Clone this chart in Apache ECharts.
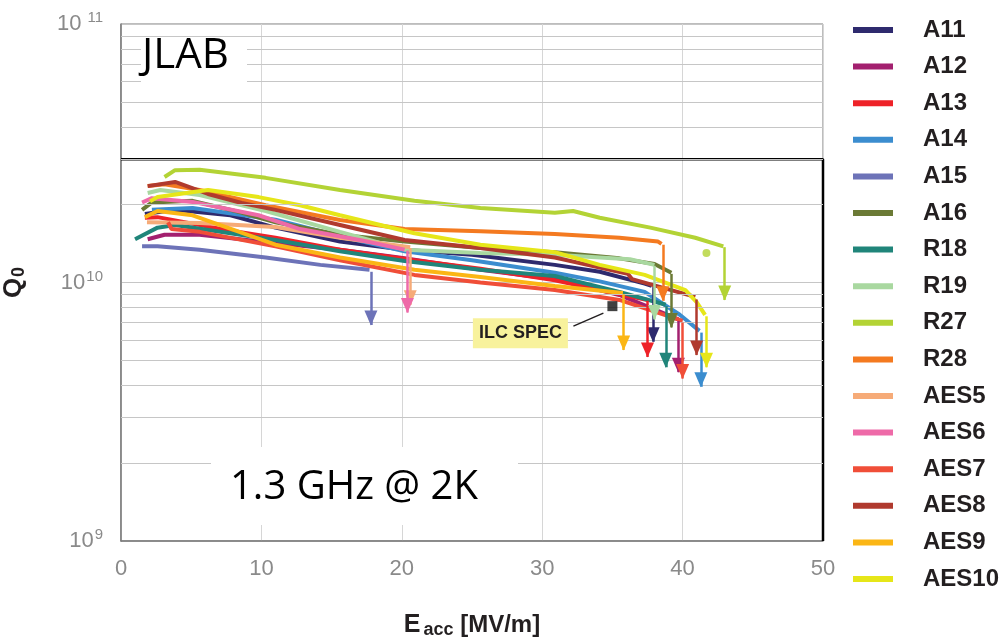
<!DOCTYPE html>
<html>
<head>
<meta charset="utf-8">
<script src="https://cdn.jsdelivr.net/npm/echarts@6/dist/echarts.min.js"></script>
<style>
html, body { margin: 0; padding: 0; background: #fff; }
#main { width: 1004px; height: 643px; }
</style>
</head>
<body>
<div id="main"></div>
<script>
// Q0 vs Eacc [MV/m], one list of [Eacc, Q0] per cavity
var A11 = [[1.7,1.84e10],[3.85,1.91e10],[7.8,1.82e10],[11.0,1.63e10],[15.6,1.44e10],[20.2,1.34e10],[25.0,1.28e10],[30.9,1.17e10],[34.1,1.10e10],[37.3,0.99e10],[37.8,0.97e10]];
var A12 = [[1.9,1.47e10],[3.1,1.53e10],[5.6,1.53e10],[11.0,1.42e10],[15.6,1.34e10],[20.2,1.24e10],[25.6,1.12e10],[30.9,1.03e10],[35.5,0.895e10],[39.7,0.72e10]];
var A13 = [[1.7,1.78e10],[2.6,1.79e10],[7.4,1.60e10],[11.0,1.49e10],[15.6,1.34e10],[20.9,1.22e10],[25.6,1.13e10],[30.9,1.02e10],[34.1,0.935e10],[37.5,0.856e10]];
var A14 = [[2.2,1.91e10],[5.1,1.94e10],[11.0,1.75e10],[15.6,1.51e10],[20.2,1.32e10],[25.0,1.22e10],[30.9,1.09e10],[34.1,1.01e10],[37.3,0.92e10],[39.8,0.75e10],[41.2,0.65e10]];
var A15 = [[1.5,1.38e10],[2.6,1.38e10],[5.6,1.34e10],[10.3,1.25e10],[14.2,1.17e10],[17.7,1.12e10]];
var A16 = [[1.5,1.91e10],[2.2,2.04e10],[5.1,2.07e10],[8.5,1.87e10],[11.0,1.71e10],[15.6,1.53e10],[20.2,1.44e10],[25.6,1.36e10],[30.9,1.31e10],[35.5,1.24e10],[38.0,1.18e10],[39.2,1.09e10]];
var R18 = [[1.0,1.47e10],[2.6,1.63e10],[3.85,1.67e10],[11.0,1.46e10],[15.6,1.32e10],[20.2,1.21e10],[25.6,1.12e10],[30.9,1.06e10],[35.5,0.92e10],[38.8,0.82e10]];
var R19 = [[1.9,2.22e10],[2.8,2.28e10],[5.6,2.18e10],[10.3,1.89e10],[15.6,1.57e10],[20.2,1.34e10],[25.6,1.30e10],[30.9,1.28e10],[34.1,1.25e10],[36.25,1.23e10],[38.0,1.17e10]];
var R27 = [[3.1,2.56e10],[3.85,2.72e10],[5.6,2.73e10],[10.3,2.54e10],[15.6,2.28e10],[20.9,2.07e10],[25.6,1.94e10],[30.9,1.86e10],[32.2,1.89e10],[34.1,1.78e10],[37.7,1.63e10],[40.9,1.49e10],[42.9,1.38e10]];
var R28 = [[1.9,2.36e10],[3.1,2.40e10],[5.6,2.28e10],[10.3,1.99e10],[15.6,1.745e10],[20.2,1.61e10],[25.6,1.58e10],[30.9,1.54e10],[35.5,1.49e10],[38.25,1.44e10],[38.5,1.41e10]];
var AES5 = [[1.85,1.71e10],[5.6,1.70e10],[11.0,1.64e10],[15.6,1.49e10],[20.6,1.37e10]];
var AES6 = [[1.5,2.04e10],[2.2,2.12e10],[5.1,2.05e10],[9.8,1.82e10],[12.75,1.61e10],[17.0,1.46e10],[20.2,1.34e10]];
var AES7 = [[3.35,1.71e10],[3.6,1.61e10],[5.6,1.57e10],[11.0,1.38e10],[15.6,1.22e10],[20.9,1.07e10],[25.6,1.00e10],[30.9,0.935e10],[35.5,0.856e10],[40.0,0.71e10]];
var AES8 = [[1.9,2.36e10],[3.85,2.45e10],[6.2,2.20e10],[8.6,2.03e10],[11.0,1.91e10],[15.6,1.67e10],[20.2,1.46e10],[25.6,1.36e10],[30.9,1.25e10],[36.1,1.08e10],[36.4,1.03e10],[40.9,0.88e10]];
var AES9 = [[1.7,1.79e10],[2.6,1.89e10],[5.1,1.82e10],[11.0,1.40e10],[15.6,1.25e10],[20.9,1.12e10],[25.6,1.05e10],[30.9,0.97e10],[35.75,0.91e10]];
var AES10 = [[2.07,2.06e10],[2.6,2.14e10],[6.2,2.28e10],[9.8,2.14e10],[12.75,1.99e10],[15.6,1.82e10],[20.9,1.55e10],[25.6,1.40e10],[30.9,1.31e10],[34.1,1.17e10],[37.3,1.07e10],[40.2,0.935e10],[41.0,0.84e10],[41.6,0.75e10]];

var names = ['A11','A12','A13','A14','A15','A16','R18','R19','R27','R28','AES5','AES6','AES7','AES8','AES9','AES10'];
var curves = [A11, A12, A13, A14, A15, A16, R18, R19, R27, R28, AES5, AES6, AES7, AES8, AES9, AES10];
var colors = ['#2e2a6e','#a3206f','#ee2228','#3b8dcf','#6d73b8','#6b7a35','#20857a','#a9d8a0','#b3d335','#f47a20','#f6ab78','#ee6aa8','#f04e38','#b03a2e','#fbb615','#e6e619'];

// quench arrows (same order as names): field, Q where arrow starts, Q at arrow tip
var quenchE   = [37.9, 39.7, 37.5, 41.3, 17.8, 39.2, 38.8, 38.0, 43.0, 38.6, 20.6, 20.4, 40.0, 41.0, 35.8, 41.7];
var quenchTop = [0.96e10, 0.71e10, 0.85e10, 0.64e10, 1.10e10, 1.08e10, 0.81e10, 1.16e10, 1.37e10, 1.40e10, 1.36e10, 1.33e10, 0.70e10, 0.86e10, 0.90e10, 0.74e10];
var quenchTip = [0.59e10, 0.45e10, 0.515e10, 0.395e10, 0.685e10, 0.67e10, 0.47e10, 0.72e10, 0.856e10, 0.85e10, 0.82e10, 0.765e10, 0.425e10, 0.524e10, 0.548e10, 0.47e10];

var r27Dot = [41.7, 1.30e10];
var ilcSpec = [35, 8.1e9];
var boxCorners = [[0, 3e10], [50, 3e10], [50, 1e9]];
var minorGrid = [2e9,3e9,4e9,5e9,6e9,7e9,8e9,9e9,2e10,3e10,4e10,5e10,6e10,7e10,8e10,9e10];

var series = [];

series.push({
  name: 'minor', type: 'line', data: [], silent: true,
  markLine: {
    silent: true, symbol: ['none', 'none'], label: { show: false },
    lineStyle: { color: '#c6c6c6', width: 1, type: 'solid' },
    data: minorGrid.map(function (v) { return { yAxis: v }; })
  }
});

series.push({
  name: 'box', type: 'line', data: boxCorners, symbol: 'none', silent: true, clip: false,
  lineStyle: { color: '#000', width: 2.5 }, z: 3
});

for (var i = 0; i < names.length; i++) {
  series.push({
    name: names[i],
    type: 'line',
    data: curves[i],
    symbol: 'none',
    color: colors[i],
    lineStyle: { width: 4, color: colors[i] },
    z: 4,
    markLine: {
      silent: true,
      symbol: ['none', 'triangle'],
      symbolSize: [13, 15],
      symbolOffset: [[0, 0], [0, 7]],
      label: { show: false },
      lineStyle: { color: colors[i], width: 2.5, type: 'solid' },
      data: [[{ coord: [quenchE[i], quenchTop[i]] }, { coord: [quenchE[i], quenchTip[i]] }]]
    }
  });
}

series.push({
  name: 'r27dot', type: 'scatter', data: [r27Dot], symbolSize: 8, silent: true,
  itemStyle: { color: '#b3d335' }, z: 5
});

series.push({
  name: 'ILC SPEC', type: 'scatter', data: [ilcSpec], symbol: 'rect', symbolSize: 10, silent: true,
  itemStyle: { color: '#111' }, z: 6
});

var myChart = echarts.init(document.getElementById('main'));

var option = {
  animation: false,
  backgroundColor: '#fff',
  grid: { left: 121, right: 181, top: 24, bottom: 102, outerBoundsMode: 'none', containLabel: false,
    show: true, borderColor: '#7a7a7a', borderWidth: 1 },
  legend: {
    data: names,
    orient: 'vertical',
    left: 848,
    top: 13,
    icon: 'rect',
    itemWidth: 40,
    itemHeight: 6,
    itemGap: 12.6,
    selectedMode: false,
    textStyle: { fontFamily: 'Liberation Sans', fontWeight: 'bold', fontSize: 24, lineHeight: 24, color: '#231f20', padding: [0, 0, 0, 25] }
  },
  xAxis: {
    type: 'value', min: 0, max: 50, interval: 10,
    name: '{e|E}{sub|acc}{u| [MV/m]}',
    nameLocation: 'middle', nameGap: 70,
    nameTextStyle: {
      rich: {
        e: { fontFamily: 'Liberation Sans', fontWeight: 'bold', fontSize: 25, color: '#231f20' },
        sub: { fontFamily: 'Liberation Sans', fontWeight: 'bold', fontSize: 18, color: '#231f20', padding: [10, 0, 0, 3] },
        u: { fontFamily: 'Liberation Sans', fontWeight: 'bold', fontSize: 24, color: '#231f20' }
      }
    },
    axisLine: { lineStyle: { color: '#7a7a7a', width: 1.5 } },
    axisTick: { show: false },
    axisLabel: { color: '#8a8a8a', fontFamily: 'Liberation Sans', fontSize: 22, margin: 17 },
    splitLine: { show: true, lineStyle: { color: '#d6d6d6', width: 1 } }
  },
  yAxis: {
    type: 'log', logBase: 10, min: 1e9, max: 1e11,
    name: '{q|Q}{sub|0}',
    nameLocation: 'middle', nameGap: 93, nameRotate: 90,
    nameTextStyle: {
      rich: {
        q: { fontFamily: 'Liberation Sans', fontWeight: 'bold', fontSize: 26, color: '#231f20' },
        sub: { fontFamily: 'Liberation Sans', fontWeight: 'bold', fontSize: 18, color: '#231f20', padding: [10, 0, 0, 1] }
      }
    },
    axisLine: { show: true, lineStyle: { color: '#7a7a7a', width: 1.5 } },
    axisTick: { show: false },
    axisLabel: {
      margin: 18,
      formatter: function (v) {
        var p = Math.round(Math.log(v) / Math.LN10);
        return '{b|10}{' + (p === 11 ? 't' : 's') + '|' + p + '}';
      },
      rich: {
        b: { color: '#8a8a8a', fontFamily: 'Liberation Sans', fontSize: 22 },
        s: { color: '#8a8a8a', fontFamily: 'Liberation Sans', fontSize: 15, padding: [0, 0, 12, 1] },
        t: { color: '#8a8a8a', fontFamily: 'Liberation Sans', fontSize: 15, padding: [0, 0, 12, 6] }
      }
    },
    splitLine: { show: true, lineStyle: { color: '#c6c6c6', width: 1 } }
  },
  series: series
};

myChart.setOption(option);

// annotations
var p = myChart.convertToPixel({ gridIndex: 0 }, ilcSpec);
myChart.setOption({
  graphic: [
    { type: 'rect', shape: { x: 141, y: 38, width: 106, height: 49 }, style: { fill: '#fff' }, z: 10 },
    { type: 'text', x: 142, y: 56, z: 11,
      style: { text: 'JLAB', font: '42px "Open Sans"', fill: '#000', textVerticalAlign: 'middle' } },
    { type: 'rect', shape: { x: 211, y: 447, width: 307, height: 78 }, style: { fill: '#fff' }, z: 10 },
    { type: 'text', x: 230, y: 488, z: 11,
      style: { text: '1.3 GHz @ 2K', font: '40px "Open Sans"', fill: '#000', textVerticalAlign: 'middle' } },
    { type: 'line', z: 11,
      shape: { x1: p[0] - 39, y1: p[1] + 20, x2: p[0] - 9, y2: p[1] + 7 },
      style: { stroke: '#231f20', lineWidth: 1.5 } },
    { type: 'text', x: p[0] - 92, y: p[1] + 27, z: 11,
      style: { text: 'ILC SPEC', font: 'bold 18px "Liberation Sans"', fill: '#231f20',
        textAlign: 'center', textVerticalAlign: 'middle',
        backgroundColor: '#f8f29c', padding: [6, 6, 6, 6] } }
  ]
});
</script>
</body>
</html>
